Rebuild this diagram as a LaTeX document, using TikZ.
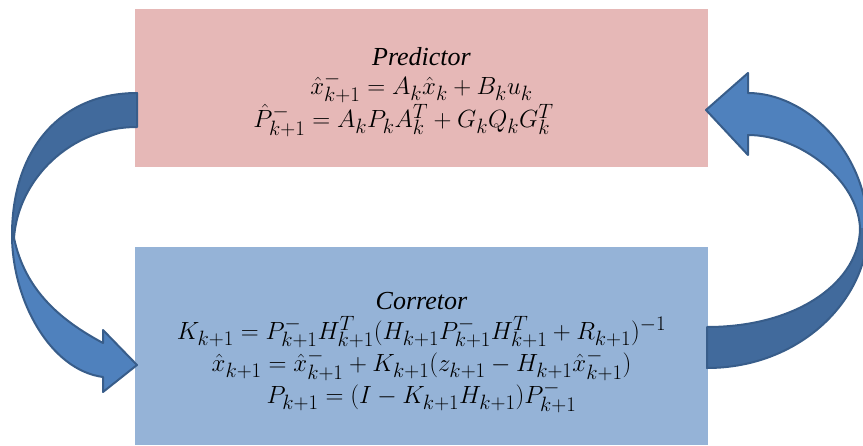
\documentclass[tikz,border=0pt]{standalone}
\usepackage{fontspec}
\setmainfont{Liberation Serif}
\usetikzlibrary{positioning}
\definecolor{predpink}{RGB}{230,184,183}
\definecolor{corrblue}{RGB}{149,179,215}
\definecolor{arrowlight}{RGB}{79,129,189}
\definecolor{arrowdark}{RGB}{65,106,156}
\definecolor{arrowedge}{RGB}{56,93,138}

\begin{document}
\begin{tikzpicture}[x=1pt,y=-1pt,
  stagebox/.style={minimum width=573pt,inner sep=0pt},
  stagetext/.style={inner sep=0pt,align=center,font=\fontsize{29}{29}\selectfont},
  bigarrow/.style={draw=arrowedge,line width=2pt,line join=round}]
  \useasboundingbox (0,0) rectangle (863,445);
  % ---- the two stages
  \node[stagebox,fill=predpink,minimum height=158pt] (pred) at (421.5,88) {};
  \node[stagebox,fill=corrblue,minimum height=198pt,below=80pt of pred] (corr) {};
  \node[stagetext] (predtext) at ([yshift=-4pt]pred.center)
       {{\fontsize{26}{29}\selectfont\textit{Predictor}}\\
        $\hat{x}_{k+1}^{-}=A_k\hat{x}_k+B_ku_k$\\
        $\hat{P}_{k+1}^{-}=A_kP_kA_k^T+G_kQ_kG_k^T$\hspace*{36pt}};
  \node[stagetext,font=\fontsize{29}{30}\selectfont] (corrtext) at ([yshift=-6pt]corr.center)
       {{\fontsize{26}{30}\selectfont\textit{Corretor}}\\
        $K_{k+1}=P_{k+1}^{-}H_{k+1}^T(H_{k+1}P_{k+1}^{-}H_{k+1}^T+R_{k+1})^{-1}$\\
        $\hat{x}_{k+1}=\hat{x}_{k+1}^{-}+K_{k+1}(z_{k+1}-H_{k+1}\hat{x}_{k+1}^{-})$\\
        $P_{k+1}=(I-K_{k+1}H_{k+1})P_{k+1}^{-}$};
  % ---- left arrow: predictor -> corretor
  \fill[arrowlight] (137,93) .. controls (60,93) and (12,150) .. (12,235)
    .. controls (12,300) and (50,370) .. (103,377) -- (103,392) -- (137,365) -- (103,330) -- (103,343)
    .. controls (60,320) and (25,290) .. (14,238)
    .. controls (18,180) and (70,127) .. (137,127) -- cycle;
  \fill[arrowdark] (137,93) .. controls (60,93) and (12,150) .. (12,235) -- (14,238)
    .. controls (18,180) and (70,127) .. (137,127) -- cycle;
  \draw[bigarrow] (137,93) .. controls (60,93) and (12,150) .. (12,235)
    .. controls (12,300) and (50,370) .. (103,377) -- (103,392) -- (137,365) -- (103,330) -- (103,343)
    .. controls (60,320) and (25,290) .. (14,238)
    .. controls (18,180) and (70,127) .. (137,127) -- cycle;
  % ---- right arrow: corretor -> predictor
  \fill[arrowlight] (707,368) .. controls (800,368) and (868,300) .. (868,228)
    .. controls (866,150) and (805,93) .. (748,93) -- (748,73) -- (706,110) -- (748,155) -- (748,135)
    .. controls (800,135) and (858,180) .. (860,228)
    .. controls (860,280) and (800,327) .. (707,327) -- cycle;
  \fill[arrowdark] (707,368) .. controls (800,368) and (868,300) .. (868,228) -- (860,228)
    .. controls (860,280) and (800,327) .. (707,327) -- cycle;
  \draw[bigarrow] (707,368) .. controls (800,368) and (868,300) .. (868,228)
    .. controls (866,150) and (805,93) .. (748,93) -- (748,73) -- (706,110) -- (748,155) -- (748,135)
    .. controls (800,135) and (858,180) .. (860,228)
    .. controls (860,280) and (800,327) .. (707,327) -- cycle;
\end{tikzpicture}
\end{document}
